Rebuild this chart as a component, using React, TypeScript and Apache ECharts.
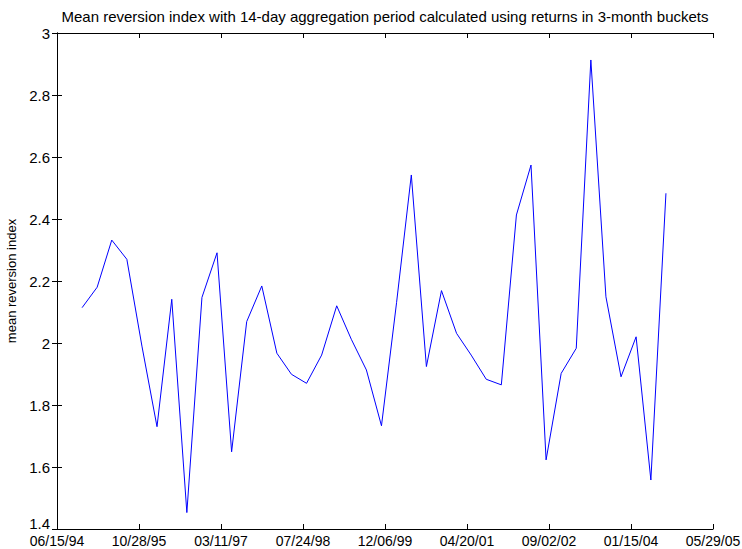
import React, { useEffect, useRef } from "react";
import * as echarts from "echarts";

const titleText =
  "Mean reversion index with 14-day aggregation period calculated using returns in 3-month buckets";
const yAxisName = "mean reversion index";

const bucketDates = [
  "1994-11-15", "1995-02-15", "1995-05-15", "1995-08-15",
  "1995-11-15", "1996-02-15", "1996-05-15", "1996-08-15",
  "1996-11-15", "1997-02-15", "1997-05-15", "1997-08-15",
  "1997-11-15", "1998-02-15", "1998-05-15", "1998-08-15",
  "1998-11-15", "1999-02-15", "1999-05-15", "1999-08-15",
  "1999-11-15", "2000-02-15", "2000-05-15", "2000-08-15",
  "2000-11-15", "2001-02-15", "2001-05-15", "2001-08-15",
  "2001-11-15", "2002-02-15", "2002-05-15", "2002-08-15",
  "2002-11-15", "2003-02-15", "2003-05-15", "2003-08-15",
  "2003-11-15", "2004-02-15", "2004-05-15", "2004-08-15",
];

const indexValues = [
  2.114, 2.18, 2.332, 2.27,
  1.99, 1.73, 2.141, 1.453,
  2.147, 2.291, 1.649, 2.069,
  2.184, 1.967, 1.899, 1.87,
  1.961, 2.12, 2.012, 1.913,
  1.733, 2.13, 2.542, 1.924,
  2.169, 2.031, 1.961, 1.883,
  1.865, 2.413, 2.574, 1.623,
  1.902, 1.983, 2.913, 2.149,
  1.891, 2.02, 1.558, 2.483,
];

const xStartDate = "1994-06-15";
const xEndDate = "2005-05-29";
const xTickCount = 8;
const yMin = 1.4;
const yMax = 3;
const yStep = 0.2;

const DAY = 86400000;
const parseUTC = (s: string) => {
  const [y, m, d] = s.split("-").map(Number);
  return Date.UTC(y, m - 1, d);
};
const t0 = parseUTC(xStartDate);
const xSpanDays = (parseUTC(xEndDate) - t0) / DAY;
const pad = (n: number) => (n < 10 ? "0" + n : "" + n);
const fmtDate = (days: number) => {
  const d = new Date(t0 + Math.round(days - 0.01) * DAY);
  return (
    pad(d.getUTCMonth() + 1) +
    "/" +
    pad(d.getUTCDate()) +
    "/" +
    pad(d.getUTCFullYear() % 100)
  );
};

const FONT = "'Liberation Sans', Arial, sans-serif";
const AXIS_COLOR = "#000000";

export default function App() {
  const ref = useRef<HTMLDivElement>(null);
  useEffect(() => {
    if (!ref.current) return;
    const chart = echarts.init(ref.current, undefined, { renderer: "svg" });
    const data = bucketDates.map((s, i) => [
      (parseUTC(s) - t0) / DAY,
      indexValues[i],
    ]);
    const xCommon = {
      type: "value" as const,
      min: 0,
      max: xSpanDays,
      interval: xSpanDays / xTickCount,
      splitLine: { show: false },
      axisLine: { show: true, lineStyle: { color: AXIS_COLOR, width: 1 } },
      axisTick: { show: true, inside: true, length: 5, lineStyle: { color: AXIS_COLOR } },
    };
    const yCommon = {
      type: "value" as const,
      min: yMin,
      max: yMax,
      interval: yStep,
      splitLine: { show: false },
      axisLine: { show: true, lineStyle: { color: AXIS_COLOR, width: 1 } },
      axisTick: { show: true, inside: true, length: 5, lineStyle: { color: AXIS_COLOR } },
    };
    chart.setOption({
      animation: false,
      backgroundColor: "#ffffff",
      grid: {
        left: 57,
        right: 29,
        top: 33,
        bottom: 20,
        containLabel: false,
        outerBoundsMode: "none",
      },
      graphic: [
        {
          type: "text",
          x: 385,
          y: 16,
          style: {
            text: titleText,
            fill: "#000",
            font: `15px ${FONT}`,
            textAlign: "center",
            textVerticalAlign: "middle",
          },
        },
      ],
      xAxis: [
        {
          ...xCommon,
          position: "bottom",
          axisLabel: {
            show: true,
            color: "#000",
            fontFamily: FONT,
            fontSize: 14,
            margin: 5,
            showMinLabel: true,
            showMaxLabel: true,
            hideOverlap: false,
            formatter: (v: number) => fmtDate(v),
          },
        },
        { ...xCommon, position: "top", axisLabel: { show: false } },
      ],
      yAxis: [
        {
          ...yCommon,
          position: "left",
          name: yAxisName,
          nameLocation: "middle",
          nameRotate: 90,
          nameGap: 36,
          nameTextStyle: { color: "#000", fontFamily: FONT, fontSize: 13 },
          axisLabel: {
            show: true,
            color: "#000",
            fontFamily: FONT,
            fontSize: 15,
            margin: 7,
            showMinLabel: true,
            showMaxLabel: true,
            hideOverlap: false,
            formatter: (v: number) => {
              const s = String(Number(v.toFixed(1)));
              return Math.abs(v - yMin) < 1e-6 ? "{low|" + s + "}" : s;
            },
            rich: {
              low: {
                color: "#000",
                fontFamily: FONT,
                fontSize: 15,
                padding: [0, 0, 11, 0],
              },
            },
          },
        },
        { ...yCommon, position: "right", axisLabel: { show: false } },
      ],
      series: [
        {
          type: "line",
          data,
          showSymbol: false,
          symbol: "none",
          lineStyle: { color: "#0000ff", width: 1 },
          xAxisIndex: 0,
          yAxisIndex: 0,
        },
      ],
    });
    return () => chart.dispose();
  }, []);
  return (
    <div
      ref={ref}
      style={{ position: "fixed", left: 0, top: 0, width: 742, height: 549, background: "#fff" }}
    />
  );
}
